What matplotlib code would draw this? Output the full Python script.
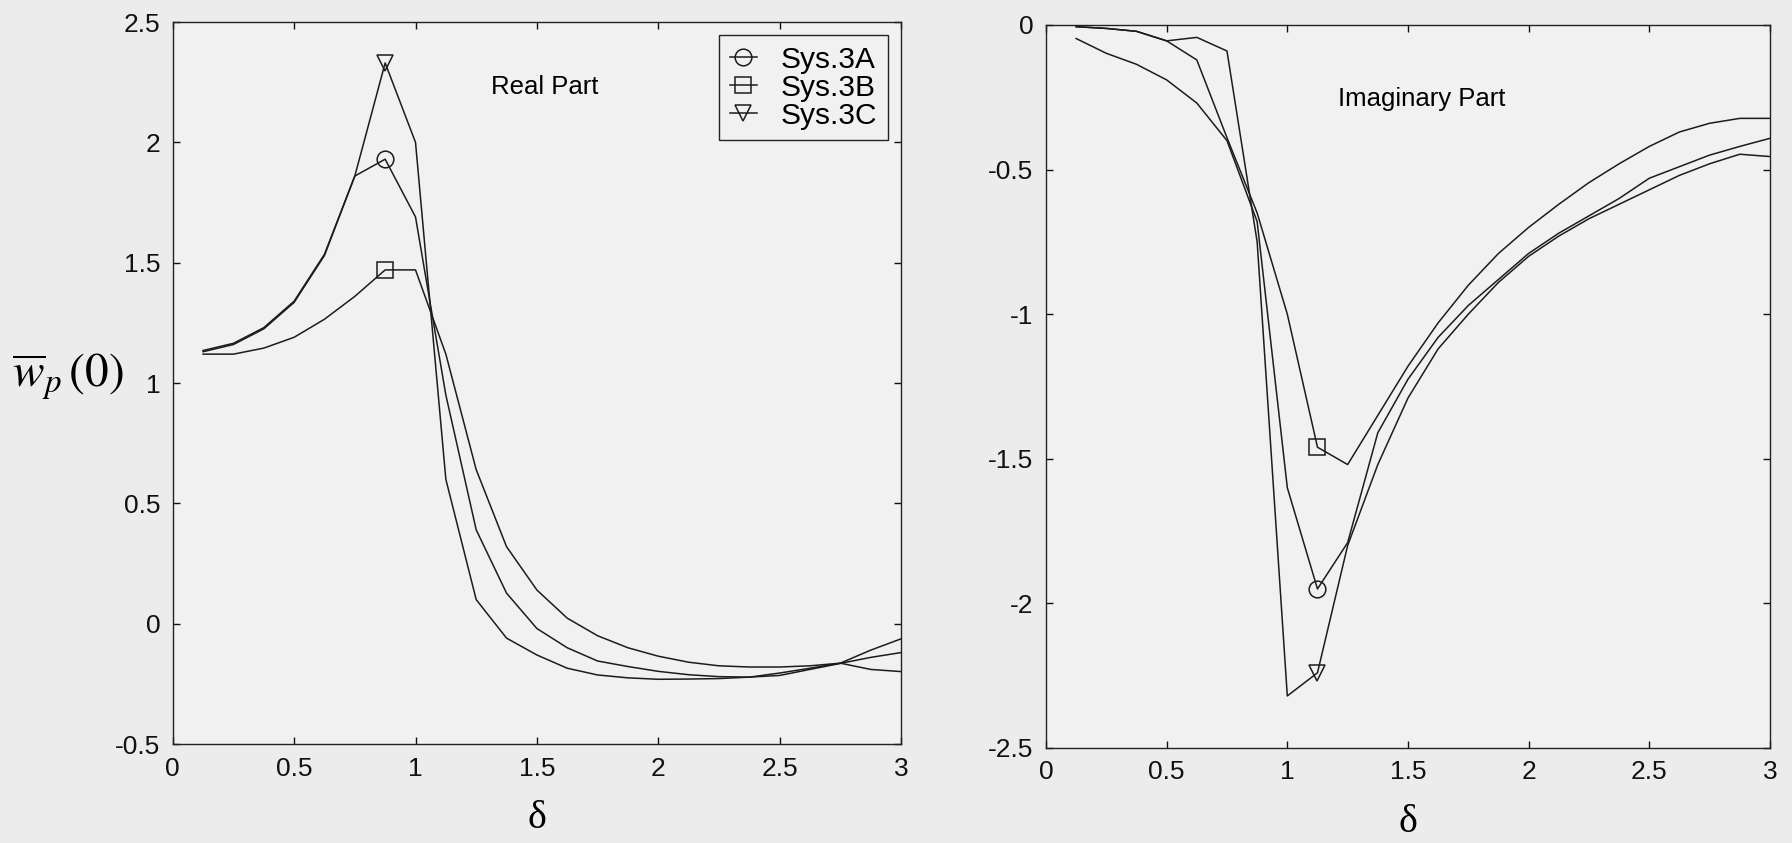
import matplotlib
matplotlib.use("Agg")
import matplotlib.pyplot as plt
from matplotlib.lines import Line2D

plt.rcParams["font.family"] = ["Liberation Sans", "DejaVu Sans"]
plt.rcParams["axes.unicode_minus"] = False
plt.rcParams["mathtext.fontset"] = "stix"

# Frequency ratio delta
delta = [0.125, 0.25, 0.375, 0.5, 0.625, 0.75, 0.875, 1.0, 1.125, 1.25, 1.375, 1.5,
         1.625, 1.75, 1.875, 2.0, 2.125, 2.25, 2.375, 2.5, 2.625, 2.75, 2.875, 3.0]

series_names = ["Sys.3A", "Sys.3B", "Sys.3C"]
series_markers = ["o", "s", "v"]

# Real part of w_p(0)
real_3a = [1.13, 1.16, 1.225, 1.335, 1.53, 1.86, 1.93, 1.69, 0.95, 0.39, 0.127, -0.02,
           -0.10, -0.155, -0.178, -0.198, -0.212, -0.22, -0.222, -0.215, -0.19, -0.165, -0.14, -0.12]
real_3b = [1.12, 1.12, 1.145, 1.19, 1.265, 1.36, 1.47, 1.47, 1.12, 0.64, 0.32, 0.14,
           0.023, -0.05, -0.10, -0.135, -0.16, -0.175, -0.18, -0.18, -0.175, -0.164, -0.19, -0.199]
real_3c = [1.135, 1.165, 1.23, 1.34, 1.535, 1.86, 2.33, 2.0, 0.6, 0.10, -0.06, -0.13,
           -0.185, -0.213, -0.225, -0.231, -0.23, -0.228, -0.222, -0.205, -0.185, -0.164, -0.11, -0.063]

# Imaginary part of w_p(0)
imag_3a = [-0.047, -0.098, -0.136, -0.19, -0.27, -0.40, -0.68, -1.60, -1.95, -1.79, -1.41, -1.225,
           -1.08, -0.97, -0.88, -0.79, -0.72, -0.66, -0.60, -0.53, -0.49, -0.45, -0.42, -0.392]
imag_3b = [-0.006, -0.012, -0.022, -0.055, -0.121, -0.39, -0.65, -1.0, -1.46, -1.52, -1.35, -1.18,
           -1.03, -0.90, -0.79, -0.70, -0.62, -0.545, -0.48, -0.42, -0.37, -0.34, -0.323, -0.323]
imag_3c = [-0.006, -0.012, -0.022, -0.055, -0.043, -0.09, -0.75, -2.32, -2.24, -1.80, -1.52, -1.29,
           -1.12, -1.0, -0.89, -0.80, -0.73, -0.67, -0.62, -0.57, -0.52, -0.48, -0.447, -0.455]

real_ticks_y = [-0.5, 0, 0.5, 1, 1.5, 2, 2.5]
imag_ticks_y = [-2.5, -2, -1.5, -1, -0.5, 0]
x_ticks = [0, 0.5, 1, 1.5, 2, 2.5, 3]

real_marker_idx = 6   # delta = 0.875
imag_marker_idx = 8   # delta = 1.125

line_color = "#1c1c1c"
paper = "#ececec"

fig = plt.figure(figsize=(17.92, 8.43), dpi=100, facecolor=paper)
ax1 = fig.add_axes([0.0964, 0.1174, 0.4064, 0.8565])
ax2 = fig.add_axes([0.5837, 0.1127, 0.4040, 0.8577])


def fmt(v):
    return "%g" % v


def draw(ax, ys, midx):
    for y, m in zip(ys, series_markers):
        ax.plot(delta, y, color=line_color, lw=1.1)
        ax.plot([delta[midx]], [y[midx]], linestyle="none", marker=m, ms=12,
                mfc="none", mec=line_color, mew=1.1)


def style(ax, yticks, ylim):
    ax.set_facecolor("#f1f1f1")
    ax.set_xlim(0, 3)
    ax.set_ylim(*ylim)
    ax.set_xticks(x_ticks)
    ax.set_xticklabels([fmt(v) for v in x_ticks])
    ax.set_yticks(yticks)
    ax.set_yticklabels([fmt(v) for v in yticks])
    ax.tick_params(direction="in", top=True, right=True, length=5, width=1,
                   labelsize=19, pad=9, colors="#111111")
    for s in ax.spines.values():
        s.set_linewidth(1.0)
        s.set_color("#222222")
    ax.set_xlabel("δ", fontsize=29, labelpad=14, family=["Liberation Serif", "DejaVu Serif"])


draw(ax1, [real_3a, real_3b, real_3c], real_marker_idx)
style(ax1, real_ticks_y, (-0.5, 2.5))
ax1.text(1.31, 2.23, "Real Part", fontsize=18.5, va="center", ha="left")

handles = [Line2D([], [], color=line_color, lw=1.1, marker=m, ms=12, mfc="none",
                  mec=line_color, mew=1.1) for m in series_markers]
leg = ax1.legend(handles, series_names, loc="upper right", fontsize=21.5,
                 frameon=True, fancybox=False, edgecolor="#222222",
                 handlelength=0.9, handletextpad=0.8, labelspacing=0.0,
                 borderpad=0.35, borderaxespad=0.45, framealpha=1)
leg.get_frame().set_facecolor("#f1f1f1")
leg.get_frame().set_linewidth(1.0)

draw(ax2, [imag_3a, imag_3b, imag_3c], imag_marker_idx)
style(ax2, imag_ticks_y, (-2.5, 0))
ax2.text(1.21, -0.255, "Imaginary Part", fontsize=18.5, va="center", ha="left")

fig.text(0.038, 0.553, r"$\overline{w}_{p}\,(0)$", fontsize=34, ha="center", va="center")

fig.savefig("out.png", dpi=100, facecolor=paper)
